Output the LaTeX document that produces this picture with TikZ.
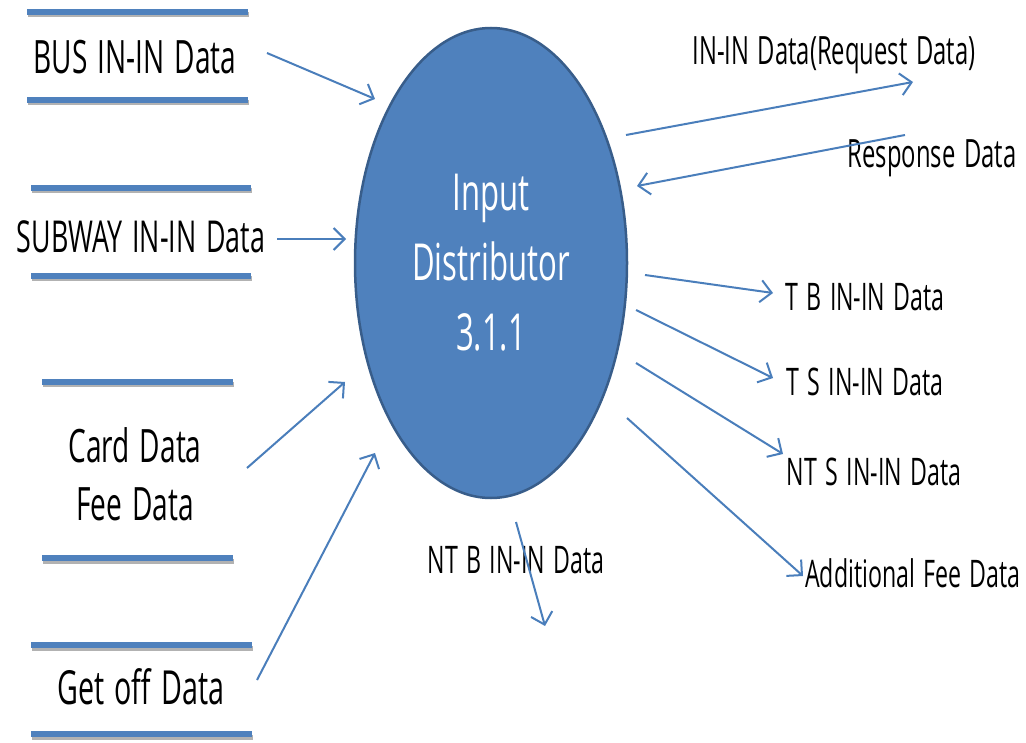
\documentclass[tikz,border=0pt]{standalone}
\usepackage{fontspec}
\setmainfont[FakeStretch=0.61, WordSpace=1.4]{Open Sans}
\usetikzlibrary{arrows.meta, shapes.geometric}
\definecolor{procblue}{HTML}{4F81BD}
\definecolor{procedge}{HTML}{385D8A}
\definecolor{flowblue}{HTML}{4A7EBB}

\begin{document}
\begin{tikzpicture}[x=1pt, y=-1pt]
    % Define node styles
    \tikzstyle{process} = [ellipse, draw=procedge, fill=procblue, line width=2.5pt, minimum width=272pt, minimum height=470pt, inner sep=0pt, text=white, align=center, font=\fontsize{51}{70}\selectfont]
    \tikzstyle{srclabel} = [inner sep=0pt, align=center, font=\fontsize{46}{58}\selectfont]
    \tikzstyle{flowlabel} = [inner sep=0pt, font=\fontsize{38}{46}\selectfont]
    \tikzstyle{flow} = [-{Straight Barb[length=11pt,width=22pt]}, flowblue, line width=2pt]
    \tikzstyle{store} = [procblue, line width=6pt]
    \tikzstyle{storeshadow} = [black!30, line width=5pt]

    \useasboundingbox (0,0) rectangle (1026,743);

    % Data stores
    \foreach \xa/\xb/\yy in {27/248/12, 27/248/100, 31/251/188, 31/251/276, 42/233/382, 42/233/558, 31/252/645, 31/252/734} {
        \draw[storeshadow] (\xa+1,\yy+3) -- (\xb+1,\yy+3);
        \draw[store] (\xa,\yy) -- (\xb,\yy);
    }

    % Nodes
    \node[process] (dist) at (491,263) {Input\\Distributor\\3.1.1};
    \node[srclabel] (bus) at (135,57) {BUS IN-IN Data};
    \node[srclabel, font=\fontsize{44}{52}\selectfont] (subway) at (141,237) {SUBWAY IN-IN Data};
    \node[srclabel] (card) at (135,474) {Card Data\\Fee Data};
    \node[srclabel, font=\fontsize{47}{56}\selectfont] (getoff) at (141,687) {Get off Data};
    \node[flowlabel, font=\fontsize{39}{46}\selectfont] (req) at (834,55) {IN-IN Data(Request Data)};
    \node[flowlabel, font=\fontsize{39}{46}\selectfont] (resp) at (932,158) {Response Data};
    \node[flowlabel] (tb) at (865,297) {T B IN-IN Data};
    \node[flowlabel] (ts) at (865,382) {T S IN-IN Data};
    \node[flowlabel] (nts) at (874,472) {NT S IN-IN Data};
    \node[flowlabel] (add) at (913,573) {Additional Fee Data};
    \node[flowlabel] (ntb) at (516,560) {NT B IN-IN Data};

    % Connector ends
    \coordinate (busout) at (267,53);     \coordinate (busin) at (375,99);
    \coordinate (subout) at (277,239);    \coordinate (subin) at (346,239);
    \coordinate (cardout) at (247,468);   \coordinate (cardin) at (345,382);
    \coordinate (getout) at (257,680);    \coordinate (getin) at (375,453);
    \coordinate (reqout) at (626,135);    \coordinate (reqin) at (913,82);
    \coordinate (respout) at (905,135);   \coordinate (respin) at (637,186);
    \coordinate (tbout) at (645,275);     \coordinate (tbin) at (773,293);
    \coordinate (tsout) at (636,310);     \coordinate (tsin) at (773,378);
    \coordinate (ntsout) at (636,363);    \coordinate (ntsin) at (783,454);
    \coordinate (addout) at (627,418);    \coordinate (addin) at (803,576);
    \coordinate (ntbout) at (516,522);    \coordinate (ntbin) at (545,626);

    % Edges (data flows)
    \draw[flow] (busout) -- (busin);
    \draw[flow] (subout) -- (subin);
    \draw[flow] (cardout) -- (cardin);
    \draw[flow] (getout) -- (getin);
    \draw[flow] (reqout) -- (reqin);
    \draw[flow] (respout) -- (respin);
    \draw[flow] (tbout) -- (tbin);
    \draw[flow] (tsout) -- (tsin);
    \draw[flow] (ntsout) -- (ntsin);
    \draw[flow] (addout) -- (addin);
    \draw[flow] (ntbout) -- (ntbin);
\end{tikzpicture}
\end{document}
